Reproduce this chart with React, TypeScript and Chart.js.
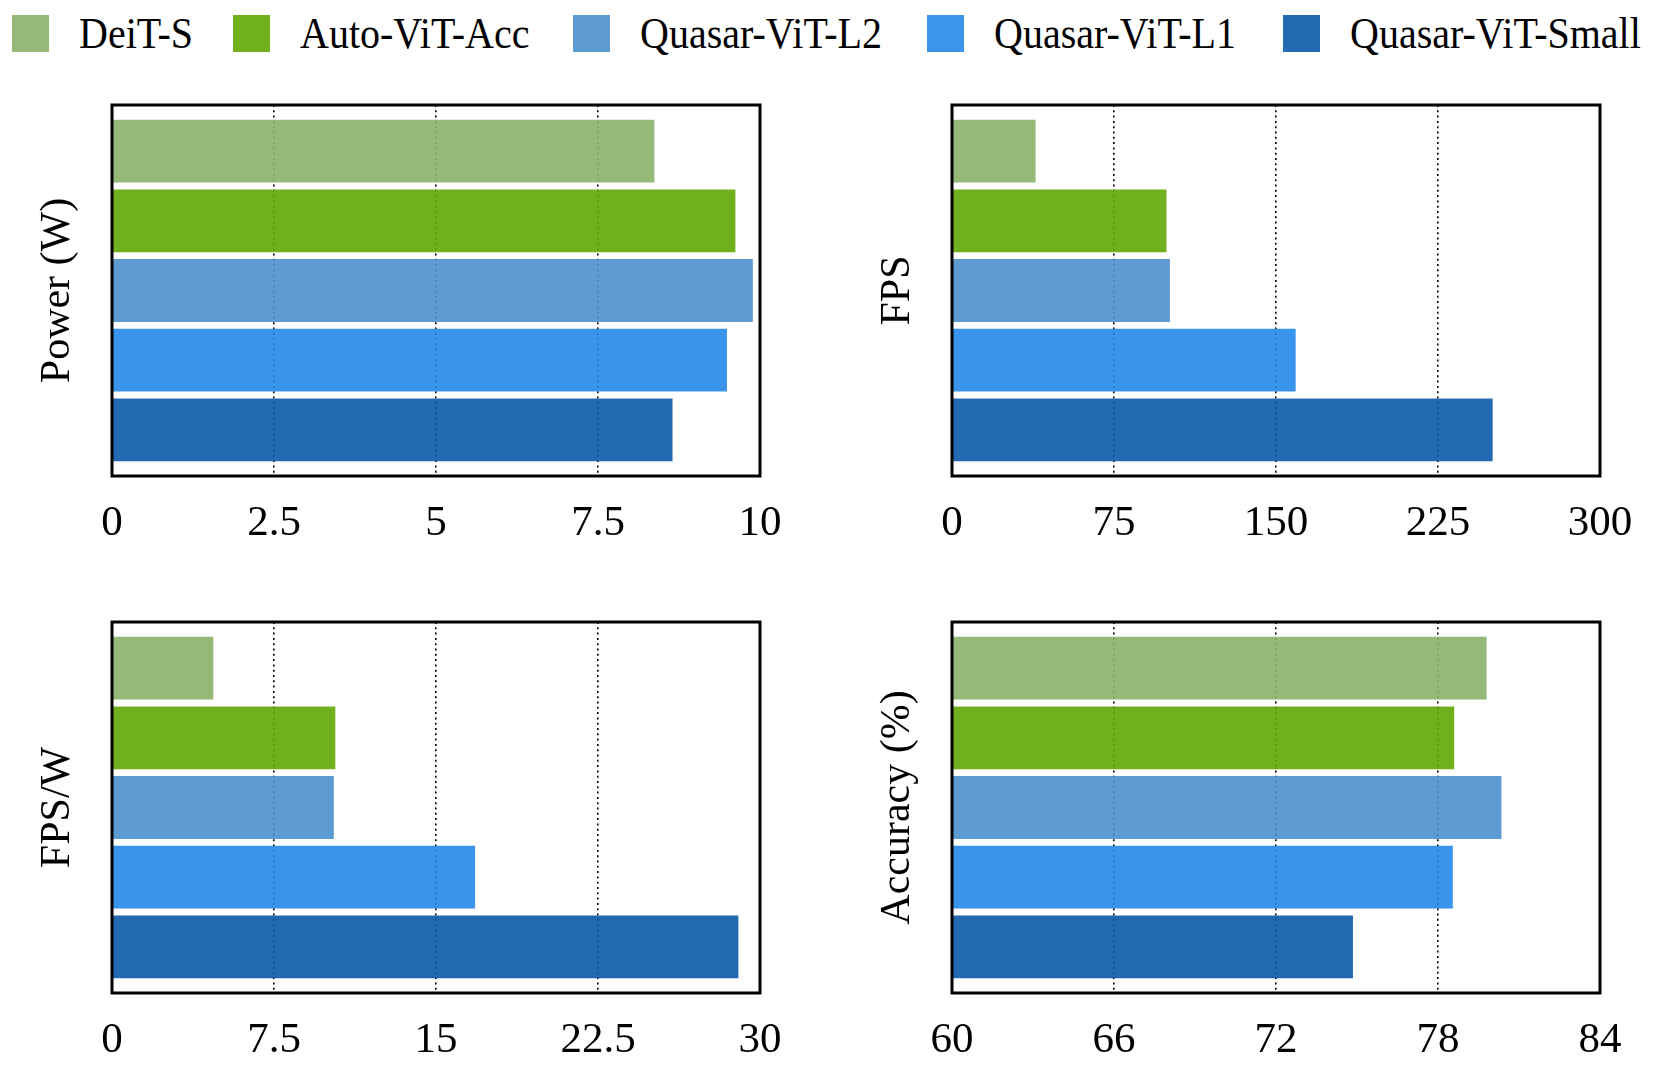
import React, { useEffect, useRef } from 'react';
import { Chart, registerables } from 'chart.js';

Chart.register(...registerables);

// ---- data ----
const models = ['DeiT-S', 'Auto-ViT-Acc', 'Quasar-ViT-L2', 'Quasar-ViT-L1', 'Quasar-ViT-Small'];
const legendColors = ['#96BA78', '#70B01D', '#5E9BD3', '#3A96EC', '#236AB2'];
const barColors = [
  'rgba(138,178,105,0.9)',
  'rgba(96,167,4,0.9)',
  'rgba(76,144,206,0.9)',
  'rgba(36,138,234,0.9)',
  'rgba(11,89,169,0.9)',
];
const powerW = [8.37, 9.62, 9.89, 9.49, 8.65];
const fps = [38.7, 99.3, 100.9, 159.1, 250.3];
const fpsPerWatt = [4.69, 10.34, 10.27, 16.81, 29.0];
const accuracy = [79.8, 78.6, 80.35, 78.55, 74.85];
const powerTicks = [0, 2.5, 5, 7.5, 10];
const fpsTicks = [0, 75, 150, 225, 300];
const fpsPerWattTicks = [0, 7.5, 15, 22.5, 30];
const accuracyTicks = [60, 66, 72, 78, 84];

const FONT = "'Liberation Serif', 'Times New Roman', Times, serif";

const framePlugin = {
  id: 'frame',
  afterDraw(chart: any) {
    const { ctx, chartArea: a } = chart;
    ctx.save();
    ctx.strokeStyle = '#000';
    ctx.lineWidth = 3;
    ctx.strokeRect(a.left, a.top, a.right - a.left, a.bottom - a.top);
    ctx.restore();
  },
};

type PanelProps = {
  values: number[];
  ticks: number[];
  title: string;
  left: number;
  top: number;
};

const W = 800;
const H = 471;

function Panel({ values, ticks, title, left, top }: PanelProps) {
  const ref = useRef<HTMLCanvasElement | null>(null);
  useEffect(() => {
    if (!ref.current) return;
    const xMin = ticks[0];
    const xMax = ticks[ticks.length - 1];
    const chart = new Chart(ref.current, {
      type: 'bar',
      data: {
        datasets: [
          {
            label: title,
            data: values.map((v, i) => ({ x: v, y: i })),
            backgroundColor: barColors,
            borderWidth: 0,
            base: xMin,
            categoryPercentage: 1,
            barPercentage: 0.9,
          } as any,
        ],
      },
      options: {
        indexAxis: 'y',
        responsive: false,
        animation: false,
        devicePixelRatio: 1,
        layout: { padding: { top: 25, right: 40, bottom: 0, left: 0 } },
        plugins: {
          legend: { display: false },
          tooltip: { enabled: false },
        },
        scales: {
          x: {
            type: 'linear',
            position: 'bottom',
            min: xMin,
            max: xMax,
            offset: false,
            afterBuildTicks: (scale: any) => {
              scale.ticks = ticks.map((v) => ({ value: v }));
            },
            afterFit: (scale: any) => {
              scale.height = 75;
              scale.paddingLeft = 0;
              scale.paddingRight = 0;
            },
            ticks: {
              color: '#000',
              padding: 22,
              maxRotation: 0,
              autoSkip: false,
              font: { family: FONT, size: 43 },
              callback: (v: any) => String(v),
            },
            grid: {
              color: (ctx: any) =>
                ctx.tick && (ctx.tick.value === xMin || ctx.tick.value === xMax) ? 'rgba(0,0,0,0)' : '#000',
              lineWidth: 1.6,
              drawTicks: false,
              offset: false,
            },
            border: { display: false, dash: [2, 3.3] },
          },
          y: {
            type: 'linear',
            reverse: true,
            offset: false,
            min: -0.66,
            max: models.length - 1 + 0.66,
            afterBuildTicks: (scale: any) => {
              scale.ticks = models.map((_, i) => ({ value: i }));
            },
            afterFit: (scale: any) => {
              scale.width = 112;
              scale.paddingTop = 0;
              scale.paddingBottom = 0;
            },
            ticks: { display: false },
            grid: { display: false, drawTicks: false, offset: false },
            border: { display: false },
            title: {
              display: true,
              text: title,
              color: '#000',
              font: { family: FONT, size: 42 },
              padding: { top: 33, bottom: 0 },
            },
          },
        },
      } as any,
      plugins: [framePlugin],
    });
    return () => chart.destroy();
  }, [values, ticks, title]);

  return (
    <canvas
      ref={ref}
      width={W}
      height={H}
      style={{ position: 'absolute', left, top, width: W, height: H }}
    />
  );
}

const legendLefts = [12, 233, 573, 927, 1283];

export default function App() {
  return (
    <div
      style={{
        position: 'absolute',
        left: 0,
        top: 0,
        width: 1660,
        height: 1068,
        overflow: 'hidden',
        background: '#fff',
      }}
    >
      {models.map((m, i) => (
        <div
          key={m}
          style={{
            position: 'absolute',
            left: legendLefts[i],
            top: 15,
            height: 37,
            display: 'flex',
            alignItems: 'center',
            whiteSpace: 'nowrap',
          }}
        >
          <div style={{ width: 37, height: 37, background: legendColors[i], marginRight: 30 }} />
          <span
            style={{
              fontFamily: FONT,
              fontSize: 40,
              lineHeight: '40px',
              color: '#000',
              display: 'inline-block',
              transform: 'scaleY(1.1)',
            }}
          >
            {m}
          </span>
        </div>
      ))}
      <Panel values={powerW} ticks={powerTicks} title="Power (W)" left={0} top={80} />
      <Panel values={fps} ticks={fpsTicks} title="FPS" left={840} top={80} />
      <Panel values={fpsPerWatt} ticks={fpsPerWattTicks} title="FPS/W" left={0} top={597} />
      <Panel values={accuracy} ticks={accuracyTicks} title="Accuracy (%)" left={840} top={597} />
    </div>
  );
}
